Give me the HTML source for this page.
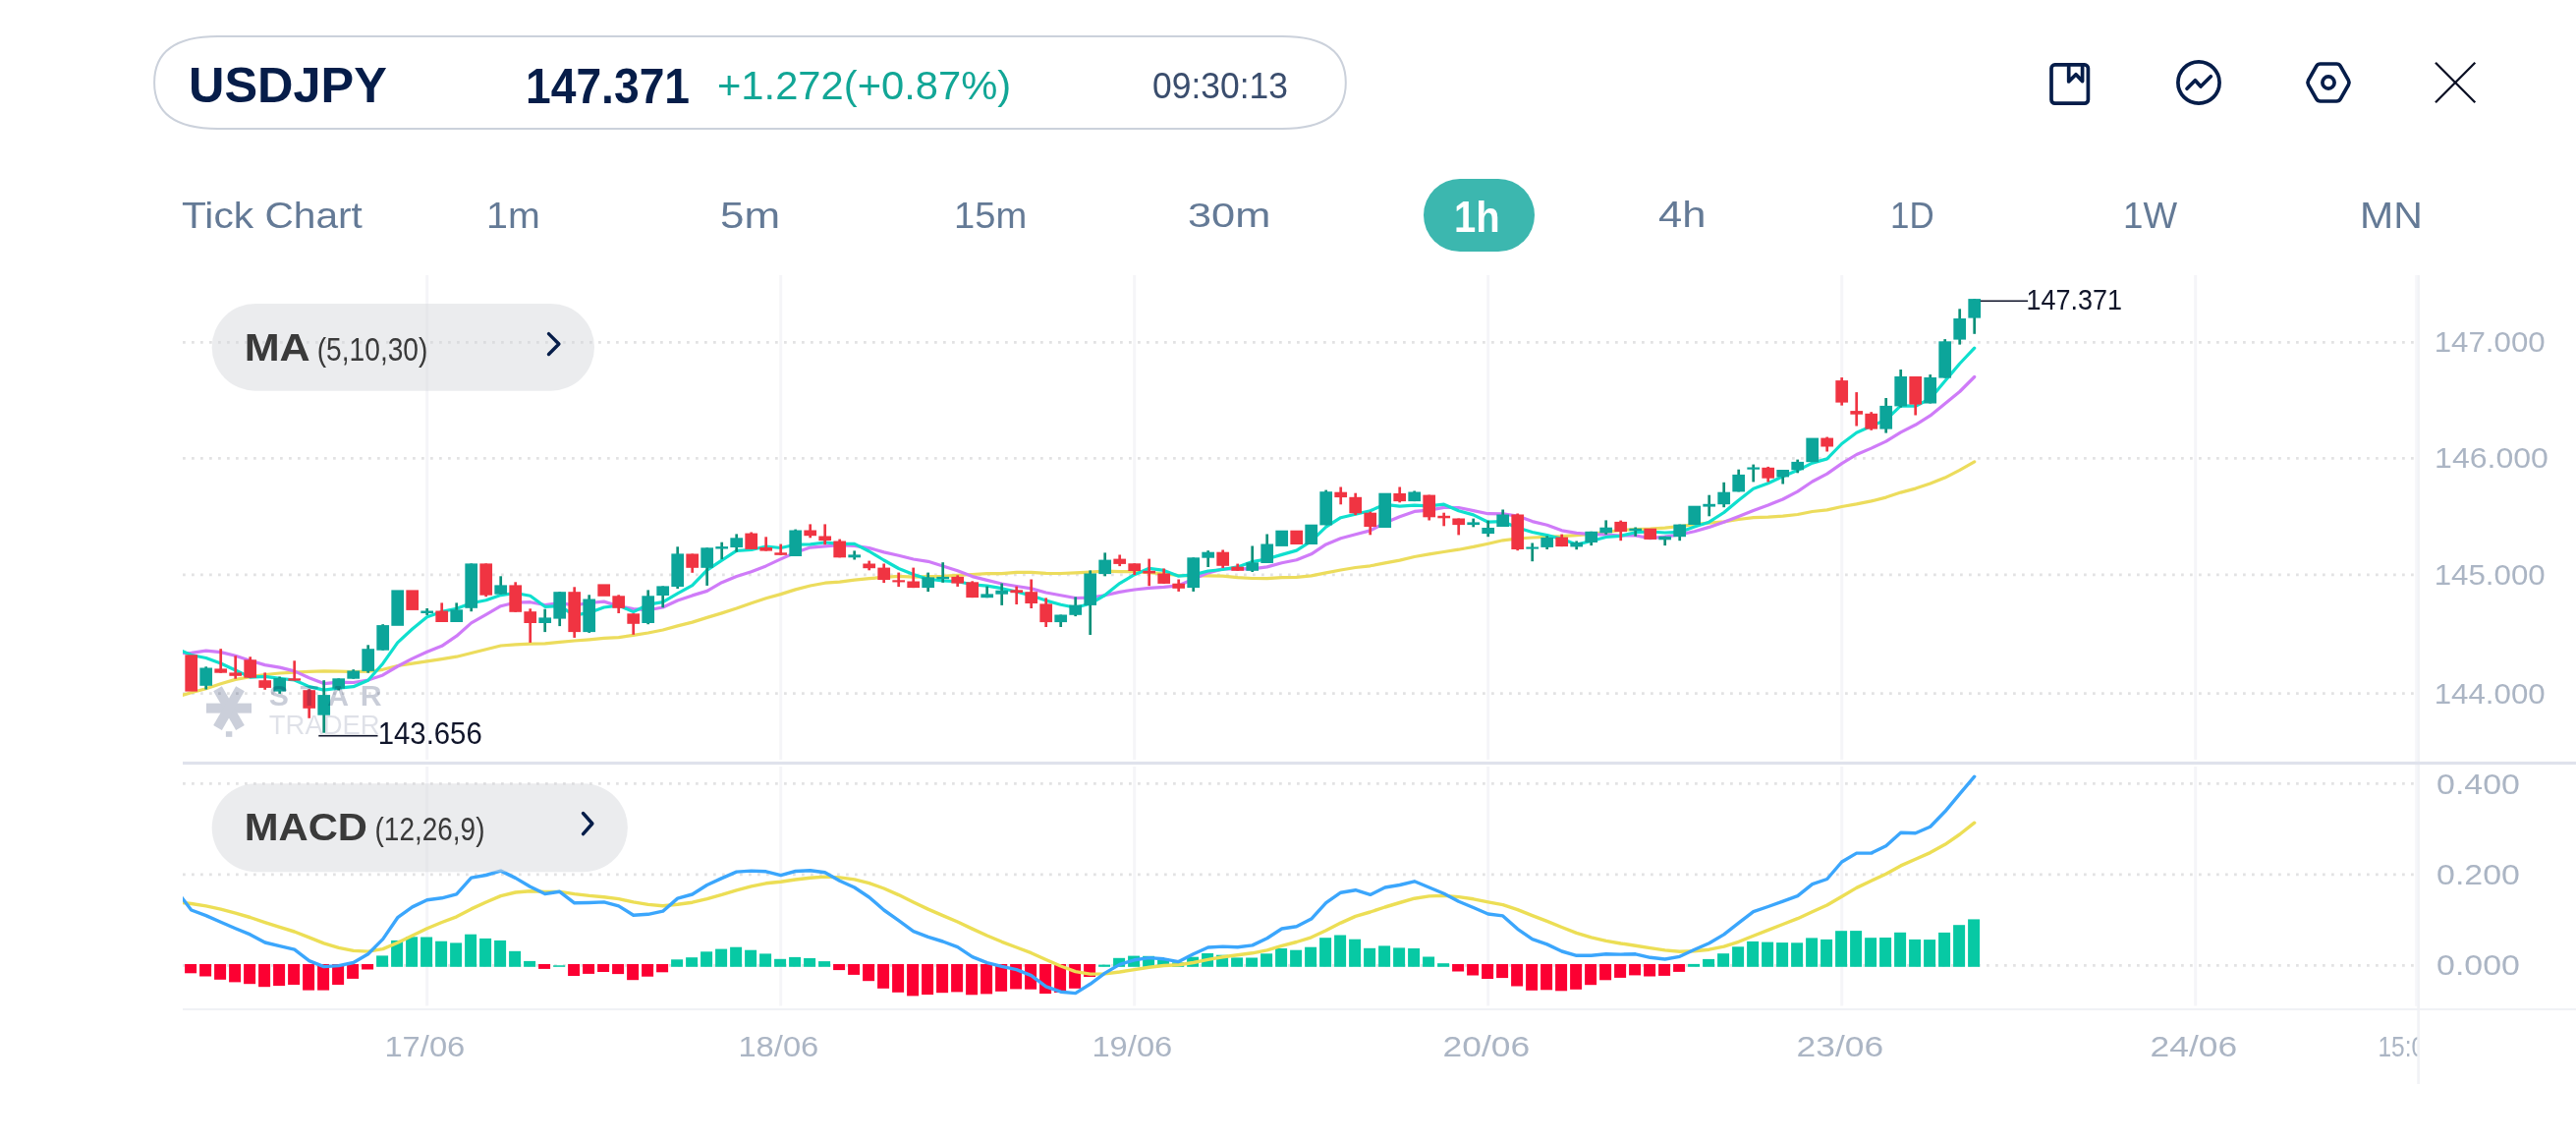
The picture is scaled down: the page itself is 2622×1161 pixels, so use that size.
<!DOCTYPE html>
<html lang="en">
<head>
<meta charset="utf-8">
<title>USDJPY chart</title>
<style>
html,body{margin:0;padding:0;background:#fff;}
body{width:2622px;height:1161px;overflow:hidden;position:relative;font-family:"Liberation Sans",sans-serif;}
.app{position:absolute;left:0;top:0;width:2622px;height:1161px;overflow:hidden;background:#fff;}
.quote{position:absolute;left:158.2px;top:38px;width:1210.6px;height:92px;}
.quote span,.tabs span{position:absolute;line-height:1;white-space:pre;transform-origin:0 0;}
.quote span{margin-left:-158.2px;margin-top:-38px;}
.tabs{position:absolute;left:0;top:0;width:2622px;height:0;}
.tab-active{position:absolute;left:1449.2px;top:181.9px;width:112.8px;height:74px;border-radius:37px;background:#3cb7af;}
.icons{position:absolute;left:0;top:0;}
.quote,.tabs,.chart,.icons{will-change:transform;}
.chart{position:absolute;left:0;top:0;}
</style>
</head>
<body>
<div class="app">
<div class="quote">
<span class="sym" style="left:192.24px;top:62.16px;font-size:49.31px;font-weight:bold;color:#061d49;transform:scaleX(1.0235)">USDJPY</span>
<span class="px" style="left:534.93px;top:63.72px;font-size:49.89px;font-weight:bold;color:#061d49;transform:scaleX(0.9265)">147.371</span>
<span class="chg" style="left:729.71px;top:66.93px;font-size:40.71px;color:#12a696;transform:scaleX(1.0251)">+1.272(+0.87%)</span>
<span class="tm" style="left:1173.30px;top:68.78px;font-size:37.03px;color:#3a4d6d;transform:scaleX(0.9574)">09:30:13</span>
</div>
<div class="tabs">
<span style="left:185.49px;top:201.72px;font-size:36.36px;color:#647a96;transform:scaleX(1.1194)">Tick Chart</span>
<span style="left:495.18px;top:201.72px;font-size:36.36px;color:#647a96;transform:scaleX(1.0826)">1m</span>
<span style="left:733.06px;top:201.91px;font-size:36.42px;color:#647a96;transform:scaleX(1.2084)">5m</span>
<span style="left:971.12px;top:201.72px;font-size:36.36px;color:#647a96;transform:scaleX(1.0492)">15m</span>
<span style="left:1208.76px;top:202.05px;font-size:35.90px;color:#647a96;transform:scaleX(1.2082)">30m</span>
<div class="tab-active"></div>
<span class="on" style="left:1479.52px;top:198.64px;font-size:44.14px;font-weight:bold;color:#ffffff;transform:scaleX(0.9065)">1h</span>
<span style="left:1687.97px;top:200.99px;font-size:36.28px;color:#647a96;transform:scaleX(1.2002)">4h</span>
<span style="left:1924.12px;top:201.72px;font-size:36.36px;color:#647a96;transform:scaleX(0.9596)">1D</span>
<span style="left:2161.30px;top:201.72px;font-size:36.36px;color:#647a96;transform:scaleX(1.0089)">1W</span>
<span style="left:2401.60px;top:201.72px;font-size:36.36px;color:#647a96;transform:scaleX(1.1281)">MN</span>
</div>
<svg class="icons" width="2622" height="140" viewBox="0 0 2622 140" fill="none" stroke="#061d49" stroke-width="3.7" stroke-linecap="round" stroke-linejoin="round">
<path class="quote-border" d="M221.6,37.0 H1305.3 C1357.8,37.0 1369.8,61.0 1369.8,83.95 C1369.8,106.9 1357.8,130.9 1305.3,130.9 H221.6 C169.1,130.9 157.1,106.9 157.1,83.95 C157.1,61.0 169.1,37.0 221.6,37.0 Z" stroke="#cbd1db" stroke-width="2"/>
<g class="icon-book"><rect x="2088" y="65.9" width="37.4" height="39.3" rx="3.6"/><path d="M2105.7,67.5 V83 L2113,75.7 L2119.6,82.6 V67.5"/></g>
<g class="icon-trend"><circle cx="2238" cy="84" r="21.1"/><path d="M2226,90.3 L2234.4,81.7 L2240,88 L2250.3,77.8"/></g>
<g class="icon-settings"><path d="M2361.8,65 H2378.2 Q2380.9,65 2382.3,67.4 L2390.4,81.6 Q2391.7,84 2390.4,86.4 L2382.3,100.6 Q2380.9,103 2378.2,103 H2361.8 Q2359.1,103 2357.7,100.6 L2349.6,86.4 Q2348.3,84 2349.6,81.6 L2357.7,67.4 Q2359.1,65 2361.8,65 Z"/><circle cx="2370" cy="84" r="6.1"/></g>
<g class="icon-close" stroke="#0b1024" stroke-width="2.3" stroke-linecap="butt"><path d="M2479,63.8 L2519.3,104.3 M2519.3,63.8 L2479,104.3"/></g>
</svg>
<svg class="chart" width="2622" height="1161" viewBox="0 0 2622 1161" font-family="Liberation Sans, sans-serif">
<defs><clipPath id="cm"><rect x="186.0" y="270.0" width="2274.5" height="505.0"/></clipPath><clipPath id="cd"><rect x="186.0" y="776.5" width="2274.5" height="250.0"/></clipPath><clipPath id="cx"><rect x="186.0" y="1030" width="2274.3" height="80"/></clipPath></defs>
<g class="vgrid" stroke="#f5f5f8" stroke-width="3">
<line x1="434.7" y1="280.0" x2="434.7" y2="773"/>
<line x1="434.7" y1="780" x2="434.7" y2="1023.5"/>
<line x1="794.7" y1="280.0" x2="794.7" y2="773"/>
<line x1="794.7" y1="780" x2="794.7" y2="1023.5"/>
<line x1="1154.7" y1="280.0" x2="1154.7" y2="773"/>
<line x1="1154.7" y1="780" x2="1154.7" y2="1023.5"/>
<line x1="1514.7" y1="280.0" x2="1514.7" y2="773"/>
<line x1="1514.7" y1="780" x2="1514.7" y2="1023.5"/>
<line x1="1874.7" y1="280.0" x2="1874.7" y2="773"/>
<line x1="1874.7" y1="780" x2="1874.7" y2="1023.5"/>
<line x1="2234.7" y1="280.0" x2="2234.7" y2="773"/>
<line x1="2234.7" y1="780" x2="2234.7" y2="1023.5"/>
</g>
<rect class="edge-grid" x="2458.2" y="280.0" width="2.2" height="743.8" fill="#f6f6f9"/>
<rect class="axis-border" x="2460.3" y="280.0" width="2.6" height="823.0" fill="#f1f2f6"/>
<g class="hgrid" stroke="#e2e2e3" stroke-width="2.7" stroke-dasharray="2.7 6.3">
<line x1="186.05" y1="348.3" x2="2457" y2="348.3"/>
<line x1="186.05" y1="466.3" x2="2457" y2="466.3"/>
<line x1="186.05" y1="584.8" x2="2457" y2="584.8"/>
<line x1="186.05" y1="705.6" x2="2457" y2="705.6"/>
<line x1="186.05" y1="797.4" x2="2457" y2="797.4"/>
<line x1="186.05" y1="889.9" x2="2457" y2="889.9"/>
<line x1="186.05" y1="982.3" x2="2457" y2="982.3"/>
</g>
<rect class="xaxis" x="186.0" y="1025.9" width="2436.0" height="2.1" fill="#f0f1f5"/>
<rect class="separator" x="186.0" y="774.9" width="2436.0" height="3.2" fill="#dfe2ec"/>
<g class="main-pane" clip-path="url(#cm)">
<g class="ma-lines" fill="none" stroke-width="3.2" stroke-linejoin="round" stroke-linecap="round">
<path class="ma30" stroke="#ecdc5c" d="M179.7,709.0 L194.7,704.8 L209.7,700.8 L224.7,695.8 L239.7,691.4 L254.7,688.7 L269.7,686.5 L284.7,685.0 L299.7,684.1 L314.7,683.4 L329.7,682.9 L344.7,683.2 L359.7,683.5 L374.7,683.2 L389.7,681.3 L404.7,677.5 L419.7,675.2 L434.7,672.9 L449.7,670.6 L464.7,668.2 L479.7,664.5 L494.7,660.7 L509.7,657.0 L524.7,655.8 L539.7,655.1 L554.7,654.8 L569.7,653.3 L584.7,652.0 L599.7,650.8 L614.7,649.3 L629.7,648.7 L644.7,646.4 L659.7,644.0 L674.7,641.0 L689.7,636.9 L704.7,633.1 L719.7,628.4 L734.7,623.9 L749.7,619.1 L764.7,613.7 L779.7,608.8 L794.7,604.6 L809.7,599.9 L824.7,596.0 L839.7,593.2 L854.7,592.1 L869.7,590.2 L884.7,588.7 L899.7,587.3 L914.7,586.4 L929.7,587.2 L944.7,586.6 L959.7,586.3 L974.7,585.3 L989.7,584.5 L1004.7,583.7 L1019.7,583.6 L1034.7,582.3 L1049.7,582.4 L1064.7,583.3 L1079.7,583.5 L1094.7,582.9 L1109.7,582.1 L1124.7,581.2 L1139.7,581.6 L1154.7,581.7 L1169.7,582.6 L1184.7,583.8 L1199.7,585.5 L1214.7,585.8 L1229.7,585.9 L1244.7,586.2 L1259.7,587.6 L1274.7,588.5 L1289.7,588.6 L1304.7,587.7 L1319.7,587.4 L1334.7,585.9 L1349.7,582.9 L1364.7,580.0 L1379.7,577.5 L1394.7,575.8 L1409.7,572.9 L1424.7,570.1 L1439.7,566.5 L1454.7,563.9 L1469.7,561.5 L1484.7,559.2 L1499.7,556.4 L1514.7,553.2 L1529.7,549.8 L1544.7,548.0 L1559.7,547.0 L1574.7,546.3 L1589.7,545.7 L1604.7,544.7 L1619.7,543.3 L1634.7,541.4 L1649.7,539.5 L1664.7,538.5 L1679.7,538.1 L1694.7,537.1 L1709.7,535.5 L1724.7,533.6 L1739.7,532.2 L1754.7,530.9 L1769.7,528.5 L1784.7,526.6 L1799.7,526.2 L1814.7,525.2 L1829.7,523.5 L1844.7,520.5 L1859.7,518.9 L1874.7,515.5 L1889.7,512.9 L1904.7,509.9 L1919.7,506.1 L1934.7,501.1 L1949.7,497.1 L1964.7,492.0 L1979.7,486.1 L1994.7,478.3 L2009.7,469.9"/>
<path class="ma10" stroke="#cf7bf8" d="M179.7,664.8 L194.7,664.3 L209.7,662.2 L224.7,663.6 L239.7,667.3 L254.7,672.3 L269.7,676.6 L284.7,679.1 L299.7,682.9 L314.7,689.7 L329.7,695.6 L344.7,694.2 L359.7,694.5 L374.7,692.1 L389.7,686.9 L404.7,678.0 L419.7,670.1 L434.7,663.2 L449.7,657.3 L464.7,647.2 L479.7,633.9 L494.7,625.4 L509.7,616.7 L524.7,613.0 L539.7,612.7 L554.7,615.5 L569.7,613.7 L584.7,615.8 L599.7,613.5 L614.7,612.1 L629.7,616.7 L644.7,619.6 L659.7,620.7 L674.7,618.0 L689.7,611.0 L704.7,605.9 L719.7,601.4 L734.7,592.7 L749.7,586.5 L764.7,581.7 L779.7,575.9 L794.7,568.9 L809.7,562.2 L824.7,557.1 L839.7,555.8 L854.7,554.7 L869.7,555.4 L884.7,557.6 L899.7,561.9 L914.7,565.2 L929.7,569.0 L944.7,571.3 L959.7,576.0 L974.7,580.8 L989.7,586.6 L1004.7,590.4 L1019.7,594.0 L1034.7,596.5 L1049.7,598.9 L1064.7,603.0 L1079.7,605.7 L1094.7,608.5 L1109.7,608.2 L1124.7,605.8 L1139.7,602.4 L1154.7,600.0 L1169.7,598.3 L1184.7,597.4 L1199.7,595.8 L1214.7,589.3 L1229.7,582.9 L1244.7,578.9 L1259.7,578.6 L1274.7,578.9 L1289.7,576.9 L1304.7,572.7 L1319.7,569.8 L1334.7,563.8 L1349.7,553.9 L1364.7,547.8 L1379.7,543.8 L1394.7,539.9 L1409.7,532.0 L1424.7,525.7 L1439.7,520.4 L1454.7,519.1 L1469.7,516.4 L1484.7,516.5 L1499.7,519.6 L1514.7,522.7 L1529.7,522.8 L1544.7,525.1 L1559.7,530.6 L1574.7,534.2 L1589.7,539.8 L1604.7,542.4 L1619.7,543.7 L1634.7,544.0 L1649.7,545.0 L1664.7,545.0 L1679.7,547.6 L1694.7,546.2 L1709.7,544.0 L1724.7,540.7 L1739.7,536.4 L1754.7,531.3 L1769.7,525.5 L1784.7,519.4 L1799.7,513.9 L1814.7,508.0 L1829.7,500.1 L1844.7,490.0 L1859.7,482.1 L1874.7,471.6 L1889.7,462.5 L1904.7,456.1 L1919.7,449.1 L1934.7,439.9 L1949.7,432.3 L1964.7,422.9 L1979.7,410.7 L1994.7,398.5 L2009.7,383.5"/>
<path class="ma5" stroke="#0fdfce" d="M179.7,660.0 L194.7,666.5 L209.7,669.5 L224.7,675.0 L239.7,682.0 L254.7,689.1 L269.7,688.3 L284.7,690.4 L299.7,692.0 L314.7,698.6 L329.7,702.1 L344.7,700.2 L359.7,698.7 L374.7,692.2 L389.7,675.2 L404.7,653.9 L419.7,640.0 L434.7,627.8 L449.7,622.4 L464.7,619.2 L479.7,613.8 L494.7,610.8 L509.7,605.6 L524.7,603.5 L539.7,606.3 L554.7,617.3 L569.7,616.6 L584.7,626.1 L599.7,623.4 L614.7,618.0 L629.7,616.1 L644.7,622.6 L659.7,615.2 L674.7,612.6 L689.7,603.9 L704.7,595.7 L719.7,580.2 L734.7,570.2 L749.7,560.4 L764.7,559.5 L779.7,556.0 L794.7,557.5 L809.7,554.2 L824.7,553.8 L839.7,552.0 L854.7,553.4 L869.7,553.3 L884.7,561.0 L899.7,570.0 L914.7,578.5 L929.7,584.6 L944.7,589.2 L959.7,591.0 L974.7,591.7 L989.7,594.8 L1004.7,596.1 L1019.7,598.7 L1034.7,602.0 L1049.7,606.1 L1064.7,611.1 L1079.7,615.3 L1094.7,618.3 L1109.7,614.3 L1124.7,605.5 L1139.7,593.6 L1154.7,584.7 L1169.7,578.3 L1184.7,580.4 L1199.7,586.2 L1214.7,584.9 L1229.7,581.0 L1244.7,579.5 L1259.7,576.9 L1274.7,571.6 L1289.7,568.8 L1304.7,564.4 L1319.7,560.1 L1334.7,550.6 L1349.7,536.2 L1364.7,526.7 L1379.7,523.3 L1394.7,519.7 L1409.7,513.3 L1424.7,515.2 L1439.7,514.1 L1454.7,514.9 L1469.7,513.2 L1484.7,519.7 L1499.7,523.9 L1514.7,531.2 L1529.7,530.7 L1544.7,537.0 L1559.7,541.5 L1574.7,544.6 L1589.7,548.4 L1604.7,554.1 L1619.7,550.5 L1634.7,546.5 L1649.7,545.3 L1664.7,541.7 L1679.7,541.0 L1694.7,542.0 L1709.7,541.4 L1724.7,536.1 L1739.7,531.2 L1754.7,521.5 L1769.7,508.9 L1784.7,497.3 L1799.7,491.7 L1814.7,484.8 L1829.7,478.6 L1844.7,471.1 L1859.7,466.9 L1874.7,451.5 L1889.7,440.3 L1904.7,433.6 L1919.7,427.1 L1934.7,412.8 L1949.7,413.2 L1964.7,405.6 L1979.7,387.8 L1994.7,370.0 L2009.7,354.2"/>
</g>
<g class="candles">
<rect x="188.35" y="666.3" width="12.7" height="37.3" fill="#f03442"/>
<rect x="208.35" y="678.3" width="2.7" height="23.2" fill="#0b9079"/>
<rect x="203.35" y="679.5" width="12.7" height="18.3" fill="#0ca59a"/>
<rect x="223.35" y="660.2" width="2.7" height="24.5" fill="#f03442"/>
<rect x="218.35" y="680.4" width="12.7" height="4.3" fill="#f03442"/>
<rect x="238.35" y="667.3" width="2.7" height="23.4" fill="#f03442"/>
<rect x="233.35" y="684.4" width="12.7" height="3.4" fill="#f03442"/>
<rect x="253.35" y="668.3" width="2.7" height="21.4" fill="#f03442"/>
<rect x="248.35" y="671.3" width="12.7" height="18.4" fill="#f03442"/>
<rect x="268.35" y="684.4" width="2.7" height="17.4" fill="#f03442"/>
<rect x="263.35" y="692.2" width="12.7" height="7.7" fill="#f03442"/>
<rect x="283.35" y="688.5" width="2.7" height="17.4" fill="#0b9079"/>
<rect x="278.35" y="690.0" width="12.7" height="13.6" fill="#0ca59a"/>
<rect x="298.35" y="672.3" width="2.7" height="20.3" fill="#f03442"/>
<rect x="293.35" y="690.3" width="12.7" height="2.3" fill="#f03442"/>
<rect x="313.35" y="701.2" width="2.7" height="29.6" fill="#f03442"/>
<rect x="308.35" y="702.2" width="12.7" height="18.6" fill="#f03442"/>
<rect x="328.35" y="692.2" width="2.7" height="53.5" fill="#0b9079"/>
<rect x="323.35" y="707.1" width="12.7" height="20.6" fill="#0ca59a"/>
<rect x="343.35" y="690.3" width="2.7" height="12.2" fill="#0b9079"/>
<rect x="338.35" y="690.3" width="12.7" height="10.4" fill="#0ca59a"/>
<rect x="358.35" y="681.2" width="2.7" height="9.5" fill="#0b9079"/>
<rect x="353.35" y="682.5" width="12.7" height="8.2" fill="#0ca59a"/>
<rect x="373.35" y="656.3" width="2.7" height="28.4" fill="#0b9079"/>
<rect x="368.35" y="660.2" width="12.7" height="22.7" fill="#0ca59a"/>
<rect x="388.35" y="635.2" width="2.7" height="26.5" fill="#0b9079"/>
<rect x="383.35" y="636.1" width="12.7" height="25.6" fill="#0ca59a"/>
<rect x="398.35" y="600.4" width="12.7" height="36.4" fill="#0ca59a"/>
<rect x="413.35" y="600.4" width="12.7" height="20.5" fill="#f03442"/>
<rect x="433.35" y="619.0" width="2.7" height="6.9" fill="#0b9079"/>
<rect x="428.35" y="621.5" width="12.7" height="2.5" fill="#0ca59a"/>
<rect x="448.35" y="613.4" width="2.7" height="19.6" fill="#f03442"/>
<rect x="443.35" y="621.5" width="12.7" height="11.5" fill="#f03442"/>
<rect x="463.35" y="613.4" width="2.7" height="19.6" fill="#0b9079"/>
<rect x="458.35" y="620.3" width="12.7" height="12.7" fill="#0ca59a"/>
<rect x="478.35" y="573.4" width="2.7" height="48.8" fill="#0b9079"/>
<rect x="473.35" y="573.4" width="12.7" height="45.4" fill="#0ca59a"/>
<rect x="493.35" y="573.4" width="2.7" height="33.8" fill="#f03442"/>
<rect x="488.35" y="573.4" width="12.7" height="32.3" fill="#f03442"/>
<rect x="508.35" y="586.3" width="2.7" height="18.4" fill="#0b9079"/>
<rect x="503.35" y="595.4" width="12.7" height="9.3" fill="#0ca59a"/>
<rect x="523.35" y="592.3" width="2.7" height="30.5" fill="#f03442"/>
<rect x="518.35" y="595.4" width="12.7" height="27.4" fill="#f03442"/>
<rect x="538.35" y="619.3" width="2.7" height="34.6" fill="#f03442"/>
<rect x="533.35" y="622.2" width="12.7" height="11.8" fill="#f03442"/>
<rect x="553.35" y="619.7" width="2.7" height="23.4" fill="#0b9079"/>
<rect x="548.35" y="628.4" width="12.7" height="5.6" fill="#0ca59a"/>
<rect x="568.35" y="602.2" width="2.7" height="34.9" fill="#0b9079"/>
<rect x="563.35" y="602.2" width="12.7" height="27.4" fill="#0ca59a"/>
<rect x="583.35" y="597.3" width="2.7" height="51.6" fill="#f03442"/>
<rect x="578.35" y="602.2" width="12.7" height="40.9" fill="#f03442"/>
<rect x="598.35" y="605.3" width="2.7" height="38.6" fill="#0b9079"/>
<rect x="593.35" y="609.5" width="12.7" height="33.6" fill="#0ca59a"/>
<rect x="608.35" y="594.4" width="12.7" height="12.4" fill="#f03442"/>
<rect x="628.35" y="605.3" width="2.7" height="18.7" fill="#f03442"/>
<rect x="623.35" y="606.3" width="12.7" height="12.5" fill="#f03442"/>
<rect x="643.35" y="624.3" width="2.7" height="21.5" fill="#f03442"/>
<rect x="638.35" y="624.3" width="12.7" height="10.5" fill="#f03442"/>
<rect x="658.35" y="600.4" width="2.7" height="34.8" fill="#0b9079"/>
<rect x="653.35" y="606.3" width="12.7" height="27.7" fill="#0ca59a"/>
<rect x="673.35" y="596.4" width="2.7" height="21.8" fill="#0b9079"/>
<rect x="668.35" y="596.4" width="12.7" height="9.6" fill="#0ca59a"/>
<rect x="688.35" y="556.3" width="2.7" height="42.7" fill="#0b9079"/>
<rect x="683.35" y="563.4" width="12.7" height="33.6" fill="#0ca59a"/>
<rect x="703.35" y="563.5" width="2.7" height="19.3" fill="#f03442"/>
<rect x="698.35" y="563.5" width="12.7" height="14.3" fill="#f03442"/>
<rect x="718.35" y="557.3" width="2.7" height="38.6" fill="#0b9079"/>
<rect x="713.35" y="557.3" width="12.7" height="20.5" fill="#0ca59a"/>
<rect x="733.35" y="551.7" width="2.7" height="17.4" fill="#0b9079"/>
<rect x="728.35" y="556.1" width="12.7" height="2.4" fill="#0ca59a"/>
<rect x="748.35" y="543.4" width="2.7" height="18.3" fill="#0b9079"/>
<rect x="743.35" y="547.3" width="12.7" height="9.7" fill="#0ca59a"/>
<rect x="763.35" y="541.5" width="2.7" height="17.4" fill="#f03442"/>
<rect x="758.35" y="542.6" width="12.7" height="16.3" fill="#f03442"/>
<rect x="778.35" y="546.3" width="2.7" height="14.3" fill="#f03442"/>
<rect x="773.35" y="557.0" width="12.7" height="3.6" fill="#f03442"/>
<rect x="793.35" y="553.6" width="2.7" height="11.2" fill="#f03442"/>
<rect x="788.35" y="562.3" width="12.7" height="2.5" fill="#f03442"/>
<rect x="808.35" y="538.6" width="2.7" height="27.4" fill="#0b9079"/>
<rect x="803.35" y="539.5" width="12.7" height="26.5" fill="#0ca59a"/>
<rect x="823.35" y="533.4" width="2.7" height="13.9" fill="#f03442"/>
<rect x="818.35" y="539.5" width="12.7" height="5.7" fill="#f03442"/>
<rect x="838.35" y="533.4" width="2.7" height="20.8" fill="#f03442"/>
<rect x="833.35" y="545.5" width="12.7" height="4.6" fill="#f03442"/>
<rect x="853.35" y="548.6" width="2.7" height="18.7" fill="#f03442"/>
<rect x="848.35" y="550.5" width="12.7" height="16.8" fill="#f03442"/>
<rect x="868.35" y="560.4" width="2.7" height="9.1" fill="#0b9079"/>
<rect x="863.35" y="564.4" width="12.7" height="2.9" fill="#0ca59a"/>
<rect x="883.35" y="570.6" width="2.7" height="9.7" fill="#f03442"/>
<rect x="878.35" y="573.5" width="12.7" height="4.7" fill="#f03442"/>
<rect x="898.35" y="573.5" width="2.7" height="19.6" fill="#f03442"/>
<rect x="893.35" y="577.6" width="12.7" height="12.4" fill="#f03442"/>
<rect x="913.35" y="582.6" width="2.7" height="14.5" fill="#f03442"/>
<rect x="908.35" y="590.3" width="12.7" height="2.1" fill="#f03442"/>
<rect x="928.35" y="577.6" width="2.7" height="20.5" fill="#f03442"/>
<rect x="923.35" y="591.5" width="12.7" height="6.6" fill="#f03442"/>
<rect x="943.35" y="582.6" width="2.7" height="19.5" fill="#0b9079"/>
<rect x="938.35" y="587.4" width="12.7" height="10.7" fill="#0ca59a"/>
<rect x="958.35" y="572.2" width="2.7" height="20.6" fill="#0b9079"/>
<rect x="953.35" y="586.9" width="12.7" height="2.4" fill="#0ca59a"/>
<rect x="973.35" y="585.3" width="2.7" height="11.6" fill="#f03442"/>
<rect x="968.35" y="586.9" width="12.7" height="6.7" fill="#f03442"/>
<rect x="988.35" y="591.3" width="2.7" height="16.8" fill="#f03442"/>
<rect x="983.35" y="592.3" width="12.7" height="15.8" fill="#f03442"/>
<rect x="1003.35" y="596.6" width="2.7" height="11.6" fill="#0b9079"/>
<rect x="998.35" y="604.4" width="12.7" height="3.8" fill="#0ca59a"/>
<rect x="1018.35" y="593.5" width="2.7" height="22.4" fill="#0b9079"/>
<rect x="1013.35" y="600.7" width="12.7" height="4.0" fill="#0ca59a"/>
<rect x="1033.35" y="596.6" width="2.7" height="18.4" fill="#f03442"/>
<rect x="1028.35" y="600.3" width="12.7" height="2.9" fill="#f03442"/>
<rect x="1048.35" y="589.5" width="2.7" height="29.5" fill="#f03442"/>
<rect x="1043.35" y="602.2" width="12.7" height="11.8" fill="#f03442"/>
<rect x="1063.35" y="608.4" width="2.7" height="29.6" fill="#f03442"/>
<rect x="1058.35" y="614.4" width="12.7" height="18.7" fill="#f03442"/>
<rect x="1078.35" y="625.5" width="2.7" height="12.5" fill="#0b9079"/>
<rect x="1073.35" y="625.5" width="12.7" height="7.6" fill="#0ca59a"/>
<rect x="1093.35" y="607.4" width="2.7" height="19.7" fill="#0b9079"/>
<rect x="1088.35" y="615.6" width="12.7" height="10.2" fill="#0ca59a"/>
<rect x="1108.35" y="580.4" width="2.7" height="65.6" fill="#0b9079"/>
<rect x="1103.35" y="583.5" width="12.7" height="32.4" fill="#0ca59a"/>
<rect x="1123.35" y="562.4" width="2.7" height="23.9" fill="#0b9079"/>
<rect x="1118.35" y="569.6" width="12.7" height="14.5" fill="#0ca59a"/>
<rect x="1138.35" y="564.5" width="2.7" height="11.6" fill="#f03442"/>
<rect x="1133.35" y="568.6" width="12.7" height="5.3" fill="#f03442"/>
<rect x="1153.35" y="573.3" width="2.7" height="11.7" fill="#f03442"/>
<rect x="1148.35" y="573.3" width="12.7" height="7.7" fill="#f03442"/>
<rect x="1168.35" y="568.6" width="2.7" height="27.6" fill="#f03442"/>
<rect x="1163.35" y="580.8" width="12.7" height="2.7" fill="#f03442"/>
<rect x="1183.35" y="578.5" width="2.7" height="15.4" fill="#f03442"/>
<rect x="1178.35" y="583.5" width="12.7" height="10.4" fill="#f03442"/>
<rect x="1198.35" y="589.5" width="2.7" height="12.4" fill="#f03442"/>
<rect x="1193.35" y="593.7" width="12.7" height="5.1" fill="#f03442"/>
<rect x="1213.35" y="567.3" width="2.7" height="34.6" fill="#0b9079"/>
<rect x="1208.35" y="567.3" width="12.7" height="30.8" fill="#0ca59a"/>
<rect x="1228.35" y="560.2" width="2.7" height="16.8" fill="#0b9079"/>
<rect x="1223.35" y="561.7" width="12.7" height="6.0" fill="#0ca59a"/>
<rect x="1243.35" y="559.5" width="2.7" height="18.4" fill="#f03442"/>
<rect x="1238.35" y="561.7" width="12.7" height="14.1" fill="#f03442"/>
<rect x="1258.35" y="573.6" width="2.7" height="7.2" fill="#f03442"/>
<rect x="1253.35" y="576.7" width="12.7" height="4.1" fill="#f03442"/>
<rect x="1273.35" y="555.5" width="2.7" height="26.5" fill="#0b9079"/>
<rect x="1268.35" y="572.3" width="12.7" height="8.5" fill="#0ca59a"/>
<rect x="1288.35" y="543.5" width="2.7" height="29.5" fill="#0b9079"/>
<rect x="1283.35" y="553.5" width="12.7" height="19.5" fill="#0ca59a"/>
<rect x="1298.35" y="539.7" width="12.7" height="16.2" fill="#0ca59a"/>
<rect x="1313.35" y="539.7" width="12.7" height="14.3" fill="#f03442"/>
<rect x="1328.35" y="533.7" width="12.7" height="20.3" fill="#0ca59a"/>
<rect x="1348.35" y="498.6" width="2.7" height="35.8" fill="#0b9079"/>
<rect x="1343.35" y="500.2" width="12.7" height="34.2" fill="#0ca59a"/>
<rect x="1363.35" y="495.5" width="2.7" height="17.8" fill="#f03442"/>
<rect x="1358.35" y="500.7" width="12.7" height="5.4" fill="#f03442"/>
<rect x="1378.35" y="501.7" width="2.7" height="22.4" fill="#f03442"/>
<rect x="1373.35" y="505.8" width="12.7" height="16.5" fill="#f03442"/>
<rect x="1393.35" y="520.7" width="2.7" height="23.6" fill="#f03442"/>
<rect x="1388.35" y="521.7" width="12.7" height="14.3" fill="#f03442"/>
<rect x="1403.35" y="501.7" width="12.7" height="35.3" fill="#0ca59a"/>
<rect x="1423.35" y="495.5" width="2.7" height="15.8" fill="#f03442"/>
<rect x="1418.35" y="502.0" width="12.7" height="8.1" fill="#f03442"/>
<rect x="1438.35" y="499.5" width="2.7" height="10.6" fill="#0b9079"/>
<rect x="1433.35" y="500.5" width="12.7" height="9.6" fill="#0ca59a"/>
<rect x="1453.35" y="503.6" width="2.7" height="25.9" fill="#f03442"/>
<rect x="1448.35" y="503.6" width="12.7" height="22.7" fill="#f03442"/>
<rect x="1468.35" y="521.7" width="2.7" height="13.6" fill="#f03442"/>
<rect x="1463.35" y="524.8" width="12.7" height="2.5" fill="#f03442"/>
<rect x="1483.35" y="527.5" width="2.7" height="16.9" fill="#f03442"/>
<rect x="1478.35" y="527.5" width="12.7" height="6.6" fill="#f03442"/>
<rect x="1498.35" y="527.6" width="2.7" height="8.7" fill="#0b9079"/>
<rect x="1493.35" y="531.4" width="12.7" height="2.7" fill="#0ca59a"/>
<rect x="1513.35" y="529.7" width="2.7" height="16.5" fill="#0b9079"/>
<rect x="1508.35" y="537.0" width="12.7" height="6.1" fill="#0ca59a"/>
<rect x="1528.35" y="518.5" width="2.7" height="17.5" fill="#0b9079"/>
<rect x="1523.35" y="523.5" width="12.7" height="12.5" fill="#0ca59a"/>
<rect x="1543.35" y="522.5" width="2.7" height="37.7" fill="#f03442"/>
<rect x="1538.35" y="523.5" width="12.7" height="35.5" fill="#f03442"/>
<rect x="1558.35" y="552.5" width="2.7" height="18.7" fill="#0b9079"/>
<rect x="1553.35" y="556.5" width="12.7" height="2.1" fill="#0ca59a"/>
<rect x="1573.35" y="545.3" width="2.7" height="13.7" fill="#0b9079"/>
<rect x="1568.35" y="546.9" width="12.7" height="10.0" fill="#0ca59a"/>
<rect x="1588.35" y="543.6" width="2.7" height="12.5" fill="#f03442"/>
<rect x="1583.35" y="546.6" width="12.7" height="9.5" fill="#f03442"/>
<rect x="1603.35" y="550.5" width="2.7" height="8.7" fill="#0b9079"/>
<rect x="1598.35" y="552.0" width="12.7" height="4.4" fill="#0ca59a"/>
<rect x="1618.35" y="540.8" width="2.7" height="14.3" fill="#0b9079"/>
<rect x="1613.35" y="540.8" width="12.7" height="11.2" fill="#0ca59a"/>
<rect x="1633.35" y="529.4" width="2.7" height="14.5" fill="#0b9079"/>
<rect x="1628.35" y="536.7" width="12.7" height="5.6" fill="#0ca59a"/>
<rect x="1648.35" y="529.6" width="2.7" height="20.6" fill="#f03442"/>
<rect x="1643.35" y="530.9" width="12.7" height="10.2" fill="#f03442"/>
<rect x="1663.35" y="536.5" width="2.7" height="9.3" fill="#0b9079"/>
<rect x="1658.35" y="537.7" width="12.7" height="2.5" fill="#0ca59a"/>
<rect x="1673.35" y="537.7" width="12.7" height="11.2" fill="#f03442"/>
<rect x="1693.35" y="545.8" width="2.7" height="9.3" fill="#0b9079"/>
<rect x="1688.35" y="545.8" width="12.7" height="3.5" fill="#0ca59a"/>
<rect x="1708.35" y="533.6" width="2.7" height="16.6" fill="#0b9079"/>
<rect x="1703.35" y="533.6" width="12.7" height="12.6" fill="#0ca59a"/>
<rect x="1718.35" y="514.7" width="12.7" height="19.3" fill="#0ca59a"/>
<rect x="1738.35" y="503.7" width="2.7" height="21.6" fill="#0b9079"/>
<rect x="1733.35" y="512.8" width="12.7" height="2.8" fill="#0ca59a"/>
<rect x="1753.35" y="490.8" width="2.7" height="25.4" fill="#0b9079"/>
<rect x="1748.35" y="500.7" width="12.7" height="12.5" fill="#0ca59a"/>
<rect x="1768.35" y="477.7" width="2.7" height="22.7" fill="#0b9079"/>
<rect x="1763.35" y="482.9" width="12.7" height="17.5" fill="#0ca59a"/>
<rect x="1783.35" y="472.6" width="2.7" height="17.8" fill="#0b9079"/>
<rect x="1778.35" y="475.5" width="12.7" height="2.2" fill="#0ca59a"/>
<rect x="1798.35" y="474.9" width="2.7" height="15.5" fill="#f03442"/>
<rect x="1793.35" y="475.8" width="12.7" height="10.9" fill="#f03442"/>
<rect x="1813.35" y="478.0" width="2.7" height="14.5" fill="#0b9079"/>
<rect x="1808.35" y="478.0" width="12.7" height="7.4" fill="#0ca59a"/>
<rect x="1828.35" y="467.6" width="2.7" height="13.7" fill="#0b9079"/>
<rect x="1823.35" y="469.9" width="12.7" height="8.4" fill="#0ca59a"/>
<rect x="1838.35" y="445.6" width="12.7" height="24.6" fill="#0ca59a"/>
<rect x="1858.35" y="444.6" width="2.7" height="14.9" fill="#f03442"/>
<rect x="1853.35" y="445.6" width="12.7" height="8.9" fill="#f03442"/>
<rect x="1873.35" y="384.1" width="2.7" height="28.5" fill="#f03442"/>
<rect x="1868.35" y="387.1" width="12.7" height="22.5" fill="#f03442"/>
<rect x="1888.35" y="399.1" width="2.7" height="34.4" fill="#f03442"/>
<rect x="1883.35" y="418.1" width="12.7" height="3.6" fill="#f03442"/>
<rect x="1903.35" y="419.2" width="2.7" height="18.6" fill="#f03442"/>
<rect x="1898.35" y="420.8" width="12.7" height="15.8" fill="#f03442"/>
<rect x="1918.35" y="405.0" width="2.7" height="35.6" fill="#0b9079"/>
<rect x="1913.35" y="412.9" width="12.7" height="23.7" fill="#0ca59a"/>
<rect x="1933.35" y="376.0" width="2.7" height="38.6" fill="#0b9079"/>
<rect x="1928.35" y="383.0" width="12.7" height="30.4" fill="#0ca59a"/>
<rect x="1948.35" y="383.0" width="2.7" height="39.5" fill="#f03442"/>
<rect x="1943.35" y="383.0" width="12.7" height="28.6" fill="#f03442"/>
<rect x="1963.35" y="381.1" width="2.7" height="29.4" fill="#0b9079"/>
<rect x="1958.35" y="384.0" width="12.7" height="26.5" fill="#0ca59a"/>
<rect x="1978.35" y="345.1" width="2.7" height="39.5" fill="#0b9079"/>
<rect x="1973.35" y="347.3" width="12.7" height="37.3" fill="#0ca59a"/>
<rect x="1993.35" y="314.3" width="2.7" height="36.3" fill="#0b9079"/>
<rect x="1988.35" y="324.0" width="12.7" height="21.6" fill="#0ca59a"/>
<rect x="2008.35" y="304.1" width="2.7" height="35.7" fill="#0b9079"/>
<rect x="2003.35" y="304.1" width="12.7" height="19.5" fill="#0ca59a"/>
</g>
</g>
<g class="watermark" fill="#0a1e50">
<g opacity="0.21">
<rect x="210.0" y="715.6" width="46" height="10" transform="rotate(0 233 720.6)"/>
<rect x="210.0" y="715.6" width="46" height="10" transform="rotate(60 233 720.6)"/>
<rect x="210.0" y="715.6" width="46" height="10" transform="rotate(120 233 720.6)"/>
<rect x="229.9" y="744.2" width="6.4" height="5.6"/>
</g>
<g opacity="0.22" font-weight="bold">
<text transform="translate(273.80,717.60) scale(1.0051,1)" font-size="30.11" font-weight="bold" fill="#0a1e50" letter-spacing="11.5">STAR</text>
</g>
<g opacity="0.13">
<text transform="translate(273.80,747.00) scale(1.0205,1)" font-size="26.91" fill="#0a1e50">TRADER</text>
</g>
</g>
<g class="price-labels">
<rect x="2015.8" y="305.5" width="48.3" height="1.5" fill="#10152a"/>
<text transform="translate(2062.58,314.90) scale(0.9044,1)" font-size="29.82" fill="#10152a">147.371</text>
<rect x="324.3" y="747.9" width="60.2" height="1.6" fill="#10152a"/>
<text transform="translate(384.77,757.00) scale(0.9509,1)" font-size="30.84" fill="#10152a">143.656</text>
</g>
<g class="yaxis">
<text transform="translate(2477.68,358.00) scale(1.0544,1)" font-size="29.68" fill="#abb5c4">147.000</text>
<text transform="translate(2478.08,476.00) scale(1.0794,1)" font-size="29.68" fill="#abb5c4">146.000</text>
<text transform="translate(2477.68,595.10) scale(1.0544,1)" font-size="29.68" fill="#abb5c4">145.000</text>
<text transform="translate(2477.68,715.90) scale(1.0544,1)" font-size="29.68" fill="#abb5c4">144.000</text>
<text transform="translate(2480.07,807.70) scale(1.1426,1)" font-size="29.68" fill="#abb5c4">0.400</text>
<text transform="translate(2480.07,900.20) scale(1.1426,1)" font-size="29.68" fill="#abb5c4">0.200</text>
<text transform="translate(2480.07,992.00) scale(1.1426,1)" font-size="29.68" fill="#abb5c4">0.000</text>
</g>
<g class="macd-pane" clip-path="url(#cd)">
<g class="hist">
<rect x="188.10" y="981.0" width="12.0" height="9.3" fill="#fc0032"/>
<rect x="203.10" y="981.0" width="12.0" height="12.5" fill="#fc0032"/>
<rect x="218.10" y="981.0" width="12.0" height="15.8" fill="#fc0032"/>
<rect x="233.10" y="981.0" width="12.0" height="18.4" fill="#fc0032"/>
<rect x="248.10" y="981.0" width="12.0" height="20.2" fill="#fc0032"/>
<rect x="263.10" y="981.0" width="12.0" height="23.2" fill="#fc0032"/>
<rect x="278.10" y="981.0" width="12.0" height="22.1" fill="#fc0032"/>
<rect x="293.10" y="981.0" width="12.0" height="21.0" fill="#fc0032"/>
<rect x="308.10" y="981.0" width="12.0" height="26.6" fill="#fc0032"/>
<rect x="323.10" y="981.0" width="12.0" height="26.6" fill="#fc0032"/>
<rect x="338.10" y="981.0" width="12.0" height="21.0" fill="#fc0032"/>
<rect x="353.10" y="981.0" width="12.0" height="14.9" fill="#fc0032"/>
<rect x="368.10" y="981.0" width="12.0" height="5.5" fill="#fc0032"/>
<rect x="383.10" y="972.4" width="12.0" height="11.4" fill="#07c9a4"/>
<rect x="398.10" y="956.9" width="12.0" height="26.9" fill="#07c9a4"/>
<rect x="413.10" y="953.3" width="12.0" height="30.5" fill="#07c9a4"/>
<rect x="428.10" y="953.5" width="12.0" height="30.3" fill="#07c9a4"/>
<rect x="443.10" y="957.7" width="12.0" height="26.1" fill="#07c9a4"/>
<rect x="458.10" y="959.4" width="12.0" height="24.4" fill="#07c9a4"/>
<rect x="473.10" y="950.7" width="12.0" height="33.1" fill="#07c9a4"/>
<rect x="488.10" y="954.9" width="12.0" height="28.9" fill="#07c9a4"/>
<rect x="503.10" y="956.9" width="12.0" height="26.9" fill="#07c9a4"/>
<rect x="518.10" y="967.8" width="12.0" height="16.0" fill="#07c9a4"/>
<rect x="533.10" y="977.9" width="12.0" height="5.9" fill="#07c9a4"/>
<rect x="548.10" y="981.0" width="12.0" height="4.9" fill="#fc0032"/>
<rect x="563.10" y="982.3" width="12.0" height="1.5" fill="#07c9a4"/>
<rect x="578.10" y="981.0" width="12.0" height="12.0" fill="#fc0032"/>
<rect x="593.10" y="981.0" width="12.0" height="9.9" fill="#fc0032"/>
<rect x="608.10" y="981.0" width="12.0" height="8.0" fill="#fc0032"/>
<rect x="623.10" y="981.0" width="12.0" height="10.1" fill="#fc0032"/>
<rect x="638.10" y="981.0" width="12.0" height="16.2" fill="#fc0032"/>
<rect x="653.10" y="981.0" width="12.0" height="12.7" fill="#fc0032"/>
<rect x="668.10" y="981.0" width="12.0" height="8.3" fill="#fc0032"/>
<rect x="683.10" y="976.3" width="12.0" height="7.5" fill="#07c9a4"/>
<rect x="698.10" y="974.2" width="12.0" height="9.6" fill="#07c9a4"/>
<rect x="713.10" y="968.3" width="12.0" height="15.5" fill="#07c9a4"/>
<rect x="728.10" y="965.6" width="12.0" height="18.2" fill="#07c9a4"/>
<rect x="743.10" y="963.7" width="12.0" height="20.1" fill="#07c9a4"/>
<rect x="758.10" y="966.7" width="12.0" height="17.1" fill="#07c9a4"/>
<rect x="773.10" y="970.4" width="12.0" height="13.4" fill="#07c9a4"/>
<rect x="788.10" y="975.8" width="12.0" height="8.0" fill="#07c9a4"/>
<rect x="803.10" y="973.9" width="12.0" height="9.9" fill="#07c9a4"/>
<rect x="818.10" y="975.0" width="12.0" height="8.8" fill="#07c9a4"/>
<rect x="833.10" y="978.1" width="12.0" height="5.7" fill="#07c9a4"/>
<rect x="848.10" y="981.0" width="12.0" height="6.1" fill="#fc0032"/>
<rect x="863.10" y="981.0" width="12.0" height="10.9" fill="#fc0032"/>
<rect x="878.10" y="981.0" width="12.0" height="17.2" fill="#fc0032"/>
<rect x="893.10" y="981.0" width="12.0" height="24.8" fill="#fc0032"/>
<rect x="908.10" y="981.0" width="12.0" height="28.8" fill="#fc0032"/>
<rect x="923.10" y="981.0" width="12.0" height="32.4" fill="#fc0032"/>
<rect x="938.10" y="981.0" width="12.0" height="31.1" fill="#fc0032"/>
<rect x="953.10" y="981.0" width="12.0" height="29.2" fill="#fc0032"/>
<rect x="968.10" y="981.0" width="12.0" height="28.4" fill="#fc0032"/>
<rect x="983.10" y="981.0" width="12.0" height="31.3" fill="#fc0032"/>
<rect x="998.10" y="981.0" width="12.0" height="30.4" fill="#fc0032"/>
<rect x="1013.10" y="981.0" width="12.0" height="27.8" fill="#fc0032"/>
<rect x="1028.10" y="981.0" width="12.0" height="25.4" fill="#fc0032"/>
<rect x="1043.10" y="981.0" width="12.0" height="25.7" fill="#fc0032"/>
<rect x="1058.10" y="981.0" width="12.0" height="30.1" fill="#fc0032"/>
<rect x="1073.10" y="981.0" width="12.0" height="29.0" fill="#fc0032"/>
<rect x="1088.10" y="981.0" width="12.0" height="24.8" fill="#fc0032"/>
<rect x="1103.10" y="981.0" width="12.0" height="13.0" fill="#fc0032"/>
<rect x="1118.10" y="981.6" width="12.0" height="2.2" fill="#07c9a4"/>
<rect x="1133.10" y="974.8" width="12.0" height="9.0" fill="#07c9a4"/>
<rect x="1148.10" y="972.6" width="12.0" height="11.2" fill="#07c9a4"/>
<rect x="1163.10" y="972.8" width="12.0" height="11.0" fill="#07c9a4"/>
<rect x="1178.10" y="975.7" width="12.0" height="8.1" fill="#07c9a4"/>
<rect x="1193.10" y="979.3" width="12.0" height="4.5" fill="#07c9a4"/>
<rect x="1208.10" y="973.7" width="12.0" height="10.1" fill="#07c9a4"/>
<rect x="1223.10" y="970.0" width="12.0" height="13.8" fill="#07c9a4"/>
<rect x="1238.10" y="971.7" width="12.0" height="12.1" fill="#07c9a4"/>
<rect x="1253.10" y="974.4" width="12.0" height="9.4" fill="#07c9a4"/>
<rect x="1268.10" y="974.5" width="12.0" height="9.3" fill="#07c9a4"/>
<rect x="1283.10" y="970.3" width="12.0" height="13.5" fill="#07c9a4"/>
<rect x="1298.10" y="965.0" width="12.0" height="18.8" fill="#07c9a4"/>
<rect x="1313.10" y="966.7" width="12.0" height="17.1" fill="#07c9a4"/>
<rect x="1328.10" y="963.7" width="12.0" height="20.1" fill="#07c9a4"/>
<rect x="1343.10" y="954.2" width="12.0" height="29.6" fill="#07c9a4"/>
<rect x="1358.10" y="951.5" width="12.0" height="32.3" fill="#07c9a4"/>
<rect x="1373.10" y="955.7" width="12.0" height="28.1" fill="#07c9a4"/>
<rect x="1388.10" y="964.8" width="12.0" height="19.0" fill="#07c9a4"/>
<rect x="1403.10" y="962.4" width="12.0" height="21.4" fill="#07c9a4"/>
<rect x="1418.10" y="964.4" width="12.0" height="19.4" fill="#07c9a4"/>
<rect x="1433.10" y="965.0" width="12.0" height="18.8" fill="#07c9a4"/>
<rect x="1448.10" y="973.5" width="12.0" height="10.3" fill="#07c9a4"/>
<rect x="1463.10" y="980.2" width="12.0" height="3.6" fill="#07c9a4"/>
<rect x="1478.10" y="981.0" width="12.0" height="7.5" fill="#fc0032"/>
<rect x="1493.10" y="981.0" width="12.0" height="11.5" fill="#fc0032"/>
<rect x="1508.10" y="981.0" width="12.0" height="15.0" fill="#fc0032"/>
<rect x="1523.10" y="981.0" width="12.0" height="14.1" fill="#fc0032"/>
<rect x="1538.10" y="981.0" width="12.0" height="22.5" fill="#fc0032"/>
<rect x="1553.10" y="981.0" width="12.0" height="26.8" fill="#fc0032"/>
<rect x="1568.10" y="981.0" width="12.0" height="26.3" fill="#fc0032"/>
<rect x="1583.10" y="981.0" width="12.0" height="27.3" fill="#fc0032"/>
<rect x="1598.10" y="981.0" width="12.0" height="25.8" fill="#fc0032"/>
<rect x="1613.10" y="981.0" width="12.0" height="21.2" fill="#fc0032"/>
<rect x="1628.10" y="981.0" width="12.0" height="16.3" fill="#fc0032"/>
<rect x="1643.10" y="981.0" width="12.0" height="13.9" fill="#fc0032"/>
<rect x="1658.10" y="981.0" width="12.0" height="11.4" fill="#fc0032"/>
<rect x="1673.10" y="981.0" width="12.0" height="12.5" fill="#fc0032"/>
<rect x="1688.10" y="981.0" width="12.0" height="11.9" fill="#fc0032"/>
<rect x="1703.10" y="981.0" width="12.0" height="7.9" fill="#fc0032"/>
<rect x="1718.10" y="980.9" width="12.0" height="2.9" fill="#07c9a4"/>
<rect x="1733.10" y="975.9" width="12.0" height="7.9" fill="#07c9a4"/>
<rect x="1748.10" y="970.2" width="12.0" height="13.6" fill="#07c9a4"/>
<rect x="1763.10" y="963.3" width="12.0" height="20.5" fill="#07c9a4"/>
<rect x="1778.10" y="957.9" width="12.0" height="25.9" fill="#07c9a4"/>
<rect x="1793.10" y="958.6" width="12.0" height="25.2" fill="#07c9a4"/>
<rect x="1808.10" y="959.1" width="12.0" height="24.7" fill="#07c9a4"/>
<rect x="1823.10" y="959.3" width="12.0" height="24.5" fill="#07c9a4"/>
<rect x="1838.10" y="954.4" width="12.0" height="29.4" fill="#07c9a4"/>
<rect x="1853.10" y="955.9" width="12.0" height="27.9" fill="#07c9a4"/>
<rect x="1868.10" y="947.2" width="12.0" height="36.6" fill="#07c9a4"/>
<rect x="1883.10" y="947.1" width="12.0" height="36.7" fill="#07c9a4"/>
<rect x="1898.10" y="954.2" width="12.0" height="29.6" fill="#07c9a4"/>
<rect x="1913.10" y="954.0" width="12.0" height="29.8" fill="#07c9a4"/>
<rect x="1928.10" y="948.8" width="12.0" height="35.0" fill="#07c9a4"/>
<rect x="1943.10" y="955.9" width="12.0" height="27.9" fill="#07c9a4"/>
<rect x="1958.10" y="956.1" width="12.0" height="27.7" fill="#07c9a4"/>
<rect x="1973.10" y="948.9" width="12.0" height="34.9" fill="#07c9a4"/>
<rect x="1988.10" y="941.2" width="12.0" height="42.6" fill="#07c9a4"/>
<rect x="2003.10" y="935.4" width="12.0" height="48.4" fill="#07c9a4"/>
</g>
<g fill="none" stroke-width="3.4" stroke-linejoin="round" stroke-linecap="round">
<path class="dea" stroke="#ecde55" d="M179.7,917.9 L194.7,919.5 L209.7,921.9 L224.7,925.2 L239.7,929.1 L254.7,933.5 L269.7,938.6 L284.7,943.4 L299.7,948.0 L314.7,953.9 L329.7,959.8 L344.7,964.4 L359.7,967.4 L374.7,968.1 L389.7,965.6 L404.7,959.2 L419.7,952.0 L434.7,944.7 L449.7,938.5 L464.7,932.8 L479.7,924.9 L494.7,918.0 L509.7,911.6 L524.7,908.0 L539.7,906.8 L554.7,907.4 L569.7,907.4 L584.7,909.6 L599.7,911.4 L614.7,912.7 L629.7,914.6 L644.7,917.9 L659.7,920.4 L674.7,921.7 L689.7,920.2 L704.7,918.2 L719.7,914.6 L734.7,910.4 L749.7,905.8 L764.7,901.8 L779.7,898.8 L794.7,897.2 L809.7,895.0 L824.7,893.2 L839.7,892.1 L854.7,892.9 L869.7,894.9 L884.7,898.6 L899.7,904.0 L914.7,910.6 L929.7,918.0 L944.7,925.1 L959.7,931.6 L974.7,938.0 L989.7,945.1 L1004.7,952.0 L1019.7,958.3 L1034.7,964.0 L1049.7,969.7 L1064.7,976.5 L1079.7,983.0 L1094.7,988.6 L1109.7,991.1 L1124.7,990.9 L1139.7,989.0 L1154.7,986.6 L1169.7,984.2 L1184.7,982.5 L1199.7,981.7 L1214.7,979.5 L1229.7,976.4 L1244.7,973.8 L1259.7,971.7 L1274.7,969.8 L1289.7,966.8 L1304.7,962.4 L1319.7,958.5 L1334.7,953.8 L1349.7,946.8 L1364.7,939.1 L1379.7,932.4 L1394.7,928.0 L1409.7,923.0 L1424.7,918.5 L1439.7,914.2 L1454.7,911.9 L1469.7,911.4 L1484.7,912.6 L1499.7,914.8 L1514.7,917.8 L1529.7,920.6 L1544.7,925.6 L1559.7,931.6 L1574.7,937.4 L1589.7,943.5 L1604.7,949.3 L1619.7,953.9 L1634.7,957.3 L1649.7,960.0 L1664.7,962.2 L1679.7,964.6 L1694.7,966.9 L1709.7,968.2 L1724.7,967.8 L1739.7,966.2 L1754.7,963.1 L1769.7,958.3 L1784.7,952.2 L1799.7,946.3 L1814.7,940.5 L1829.7,934.7 L1844.7,927.7 L1859.7,921.0 L1874.7,912.2 L1889.7,903.4 L1904.7,896.3 L1919.7,889.2 L1934.7,880.9 L1949.7,874.2 L1964.7,867.6 L1979.7,859.3 L1994.7,849.0 L2009.7,837.2"/>
<path class="dif" stroke="#3ba6fc" d="M179.7,906.2 L194.7,926.0 L209.7,931.6 L224.7,938.2 L239.7,944.7 L254.7,950.9 L269.7,959.0 L284.7,962.7 L299.7,966.2 L314.7,977.7 L329.7,983.6 L344.7,982.6 L359.7,979.5 L374.7,970.8 L389.7,955.6 L404.7,933.7 L419.7,922.9 L434.7,915.8 L449.7,913.8 L464.7,909.8 L479.7,893.2 L494.7,890.5 L509.7,886.1 L524.7,893.4 L539.7,902.3 L554.7,909.5 L569.7,907.3 L584.7,918.8 L599.7,918.5 L614.7,917.9 L629.7,921.9 L644.7,931.3 L659.7,930.3 L674.7,927.2 L689.7,914.1 L704.7,910.0 L719.7,900.5 L734.7,893.6 L749.7,887.1 L764.7,886.1 L779.7,886.8 L794.7,890.6 L809.7,886.5 L824.7,885.8 L839.7,887.8 L854.7,896.2 L869.7,903.0 L884.7,913.0 L899.7,926.0 L914.7,936.6 L929.7,947.6 L944.7,953.4 L959.7,958.0 L974.7,963.6 L989.7,973.6 L1004.7,979.6 L1019.7,983.3 L1034.7,986.6 L1049.7,992.6 L1064.7,1003.8 L1079.7,1009.2 L1094.7,1010.6 L1109.7,1001.3 L1124.7,990.1 L1139.7,981.4 L1154.7,976.8 L1169.7,974.6 L1184.7,975.8 L1199.7,978.6 L1214.7,970.8 L1229.7,964.0 L1244.7,963.1 L1259.7,963.7 L1274.7,961.9 L1289.7,954.7 L1304.7,945.0 L1319.7,942.8 L1334.7,935.1 L1349.7,918.6 L1364.7,908.2 L1379.7,905.7 L1394.7,910.4 L1409.7,903.0 L1424.7,900.5 L1439.7,896.8 L1454.7,903.0 L1469.7,909.2 L1484.7,917.3 L1499.7,923.5 L1514.7,930.0 L1529.7,931.9 L1544.7,945.3 L1559.7,955.6 L1574.7,960.9 L1589.7,968.0 L1604.7,972.3 L1619.7,972.3 L1634.7,970.8 L1649.7,971.1 L1664.7,970.8 L1679.7,974.3 L1694.7,976.0 L1709.7,973.3 L1724.7,966.3 L1739.7,959.7 L1754.7,950.9 L1769.7,939.2 L1784.7,927.7 L1799.7,922.5 L1814.7,917.2 L1829.7,911.6 L1844.7,899.7 L1859.7,894.5 L1874.7,877.0 L1889.7,868.1 L1904.7,868.1 L1919.7,860.8 L1934.7,847.3 L1949.7,847.7 L1964.7,841.3 L1979.7,825.8 L1994.7,807.8 L2009.7,790.2"/>
</g>
</g>
<g class="pill ma-pill">
<rect x="215.7" y="309.0" width="389.3" height="88.7" rx="44.3" fill="#d3d6db" fill-opacity="0.46"/>
<text transform="translate(248.64,366.60) scale(1.1192,1)" font-size="38.55" font-weight="bold" fill="#3a3a3a">MA</text>
<text transform="translate(322.67,366.57) scale(0.8481,1)" font-size="33.22" fill="#3a3a3a">(5,10,30)</text>
<path d="M558.5,339.6 L568.9,350.0 L558.5,360.5" fill="none" stroke="#061d49" stroke-width="3.4" stroke-linecap="round" stroke-linejoin="round"/>
</g>
<g class="pill macd-pill">
<rect x="215.7" y="797.2" width="423.2" height="90.0" rx="45.0" fill="#d3d6db" fill-opacity="0.46"/>
<text transform="translate(248.70,854.90) scale(1.0755,1)" font-size="38.84" font-weight="bold" fill="#3a3a3a">MACD</text>
<text transform="translate(381.55,854.87) scale(0.8458,1)" font-size="33.07" fill="#3a3a3a">(12,26,9)</text>
<path d="M593.5,827.5 L602.9,838.0 L593.5,848.6" fill="none" stroke="#061d49" stroke-width="3.4" stroke-linecap="round" stroke-linejoin="round"/>
</g>
<g class="xaxis-labels" clip-path="url(#cx)">
<text transform="translate(391.43,1074.60) scale(1.1077,1)" font-size="29.54" fill="#abb5c4">17/06</text>
<text transform="translate(751.43,1074.60) scale(1.1077,1)" font-size="29.54" fill="#abb5c4">18/06</text>
<text transform="translate(1111.43,1074.60) scale(1.1077,1)" font-size="29.54" fill="#abb5c4">19/06</text>
<text transform="translate(1468.51,1074.60) scale(1.1985,1)" font-size="29.54" fill="#abb5c4">20/06</text>
<text transform="translate(1828.51,1074.60) scale(1.1985,1)" font-size="29.54" fill="#abb5c4">23/06</text>
<text transform="translate(2188.51,1074.60) scale(1.1985,1)" font-size="29.54" fill="#abb5c4">24/06</text>
<text transform="translate(2420.51,1074.60) scale(0.8274,1)" font-size="29.54" fill="#abb5c4">15:00</text>
</g>
</svg>
</div>
</body>
</html>
